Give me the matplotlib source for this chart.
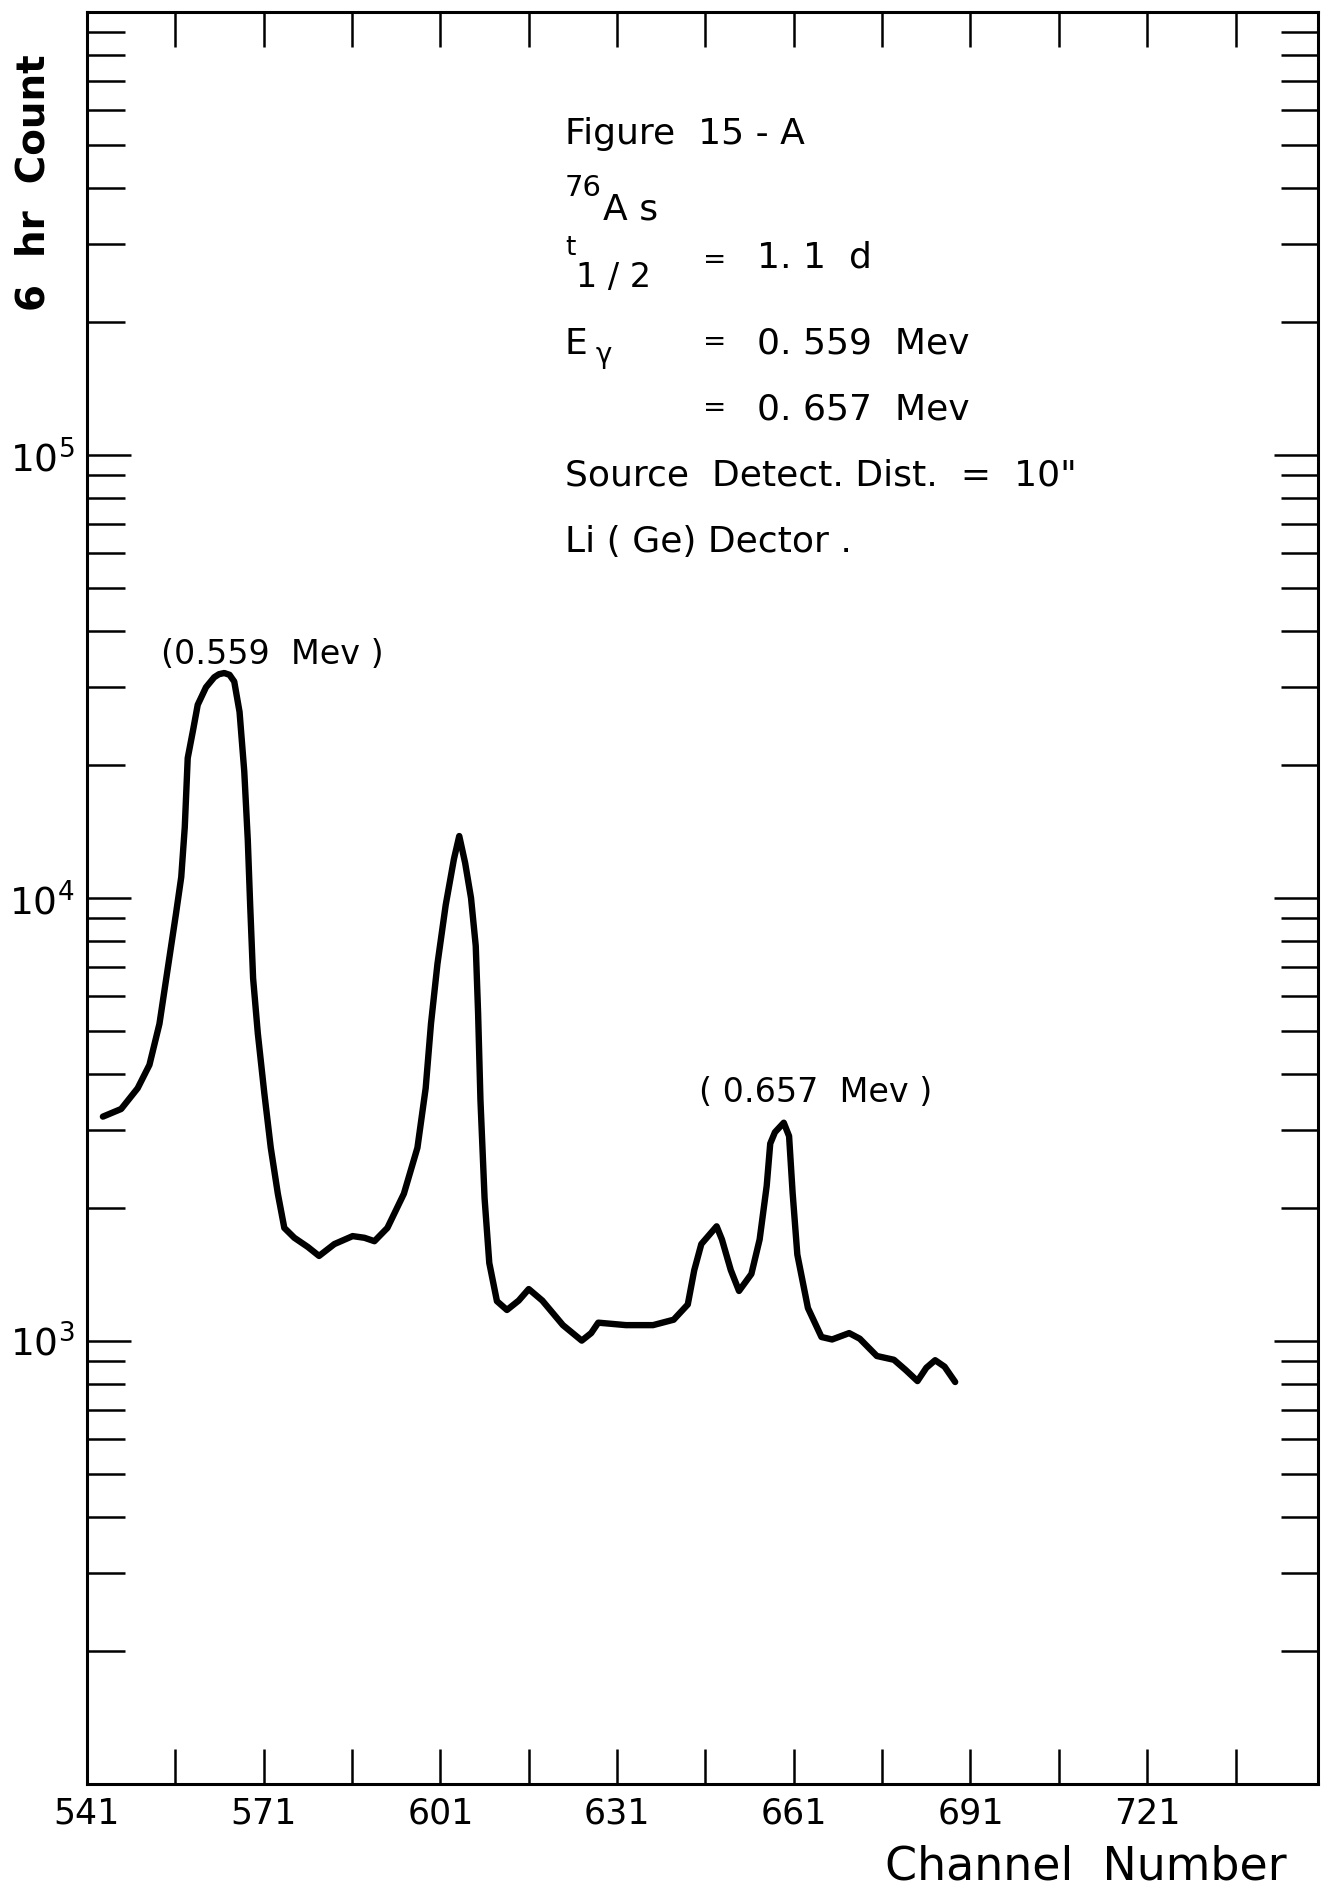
import math

import matplotlib
matplotlib.use("Agg")
import matplotlib.pyplot as plt
from matplotlib.ticker import FixedLocator, FuncFormatter, LogLocator, NullLocator

plt.rcParams["font.family"] = ["DejaVu Sans"]

# Gamma spectrum of 76As, 6 hr count per channel
channel = [543.7, 546.8, 549.6, 551.6, 553.3, 554.7, 556.1, 557.0, 557.6, 558.1,
           559.0, 559.8, 561.2, 562.6, 563.4, 564.3, 565.2, 566.0, 566.9, 567.7,
           568.3, 568.7, 569.2, 570.0, 571.1, 572.2, 573.4, 574.5, 576.2, 578.5,
           580.4, 583.0, 586.1, 588.1, 589.8, 592.0, 594.8, 597.1, 598.5, 599.4,
           600.5, 601.9, 603.3, 604.2, 605.2, 606.2, 607.0, 607.4, 607.8, 608.5,
           609.3, 610.6, 612.3, 614.3, 616.0, 618.3, 621.8, 625.0, 626.6, 627.8,
           632.5, 637.1, 640.6, 643.0, 644.1, 645.3, 647.9, 648.8, 650.3, 651.7,
           653.8, 655.2, 656.4, 657.0, 657.8, 659.3, 660.2, 660.8, 661.6, 663.4,
           665.7, 667.5, 670.4, 672.2, 675.1, 678.0, 680.0, 682.0, 683.5, 685.0,
           686.6, 688.4]
counts = [3210, 3340, 3720, 4200, 5200, 6920, 9200, 11150, 14450, 20700,
          23900, 27300, 29900, 31500, 32000, 32200, 31900, 30800, 26300, 19300,
          13500, 9660, 6590, 4950, 3630, 2730, 2150, 1800, 1710, 1630,
          1556, 1655, 1725, 1710, 1680, 1800, 2150, 2730, 3720, 5200,
          7100, 9640, 12250, 13800, 12000, 10000, 7800, 5500, 3500, 2100,
          1500, 1230, 1175, 1234, 1310, 1234, 1086, 1002, 1042, 1100,
          1086, 1086, 1117, 1209, 1445, 1655, 1815, 1695, 1446, 1297,
          1417, 1695, 2240, 2790, 2960, 3110, 2900, 2160, 1567, 1187,
          1021, 1008, 1042, 1012, 925, 907, 860, 812, 870, 905,
          875, 808]

x_ticks = list(range(541, 750, 15))
x_labeled = [541, 571, 601, 631, 661, 691, 721]
y_labeled = [3, 4, 5]

W, H = 1330, 1888
fig = plt.figure(figsize=(W / 100, H / 100), dpi=100)
fig.patch.set_facecolor("white")


def fpos(px, py):
    return px / W, 1 - py / H


ax = fig.add_axes([87 / W, 1 - 1784 / H, (1318 - 87) / W, (1784 - 12) / H])
ax.plot(channel, counts, color="black", lw=4.6,
        solid_joinstyle="round", solid_capstyle="round")

ax.set_yscale("log")
ax.set_xlim(541, 750)
ax.set_ylim(1e2, 1e6)

for sp in ax.spines.values():
    sp.set_linewidth(2.2)

ax.xaxis.set_major_locator(FixedLocator(x_ticks))
ax.xaxis.set_minor_locator(NullLocator())
ax.xaxis.set_major_formatter(
    FuncFormatter(lambda v, p: f"{int(round(v))}" if int(round(v)) in x_labeled else ""))

ax.yaxis.set_major_locator(LogLocator(base=10, numticks=10))
ax.yaxis.set_minor_locator(LogLocator(base=10, subs=range(2, 10), numticks=40))


def ylab(v, p):
    e = int(round(math.log10(v)))
    return r"$\mathregular{10^{%d}}$" % e if e in y_labeled else ""


ax.yaxis.set_major_formatter(FuncFormatter(ylab))

ax.tick_params(axis="both", which="both", direction="in", top=True, right=True,
               colors="black")
ax.tick_params(axis="x", which="major", length=25, width=1.8, pad=9, labelsize=25)
ax.tick_params(axis="y", which="major", length=32, width=1.8, pad=9, labelsize=27)
ax.tick_params(axis="y", which="minor", length=27, width=1.8)

# Axis titles
fig.text(*fpos(34, 183), "6  hr  Count", rotation=90, fontsize=28,
         fontweight="bold", ha="center", va="center")
fig.text(*fpos(1086, 1880), "Channel  Number", fontsize=33,
         ha="center", va="baseline")

# Peak annotations
fig.text(*fpos(272, 664), "(0.559  Mev )", fontsize=24, ha="center", va="baseline")
fig.text(*fpos(816, 1102), "( 0.657  Mev )", fontsize=24, ha="center", va="baseline")

# Source description block
fs = 26
x0 = 565
fig.text(*fpos(x0, 144), "Figure  15 - A", fontsize=fs, va="baseline")
fig.text(*fpos(x0, 196), "76", fontsize=21, va="baseline")
fig.text(*fpos(603, 220), "A s", fontsize=fs, va="baseline")
fig.text(*fpos(x0, 255), "t", fontsize=19, va="baseline")
fig.text(*fpos(576, 287), "1 / 2", fontsize=24, va="baseline")
fig.text(*fpos(703, 268), "=", fontsize=20, va="baseline")
fig.text(*fpos(757, 268), "1. 1  d", fontsize=fs, va="baseline")
fig.text(*fpos(x0, 354), "E", fontsize=fs, va="baseline")
fig.text(*fpos(596, 363), "γ", fontsize=20, va="baseline")
fig.text(*fpos(703, 350), "=", fontsize=20, va="baseline")
fig.text(*fpos(757, 354), "0. 559  Mev", fontsize=fs, va="baseline")
fig.text(*fpos(703, 416), "=", fontsize=20, va="baseline")
fig.text(*fpos(757, 420), "0. 657  Mev", fontsize=fs, va="baseline")
fig.text(*fpos(x0, 486), "Source  Detect. Dist.  =  10\"", fontsize=fs, va="baseline")
fig.text(*fpos(x0, 552), "Li ( Ge) Dector .", fontsize=fs, va="baseline")

fig.savefig("out.png", dpi=100, facecolor="white")
